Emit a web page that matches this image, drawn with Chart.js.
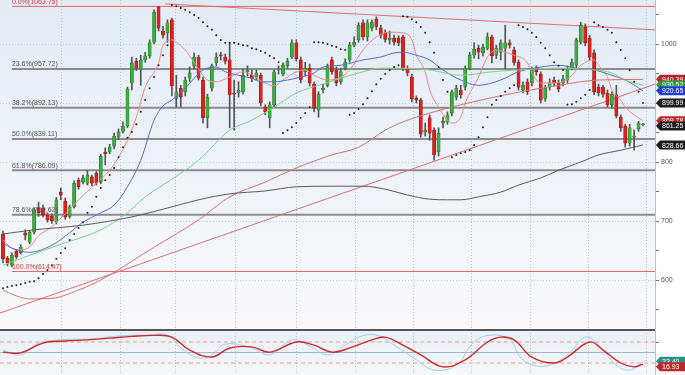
<!DOCTYPE html>
<html>
<head>
<meta charset="utf-8">
<script src="https://cdn.jsdelivr.net/npm/chart.js@4.4.0/dist/chart.umd.min.js"></script>
<style>
  html, body { margin: 0; padding: 0; background: #fff; }
</style>
</head>
<body>
<canvas id="chart" width="685" height="375"></canvas>
<script>
// candles, oldest first: [open, high, low, close]
const ohlc = [
  [678,683,629,636],[637,640,624,629],[625,646,622,642],[649,652,636,639],[646,660,644,656],
  [680,685,668,676],[664,683,661,681],[681,722,678,719],[722,732,708,714],[722,727,707,710],
  [710,714,698,702],[708,712,696,700],[698,740,695,736],[749,756,736,744],[734,739,703,707],
  [708,727,705,724],[724,768,722,764],[769,773,754,758],[766,778,763,773],[764,786,761,778],
  [775,778,760,764],[781,784,761,764],[766,813,763,810],[817,824,795,814],[817,830,814,825],
  [827,849,822,844],[842,856,838,851],[852,868,849,861],[861,927,858,924],[934,978,922,968],
  [971,976,955,959],[958,981,930,973],[973,986,969,980],[980,1007,976,1002],[1003,1058,1000,1054],
  [1063,1064,1022,1027],[1022,1030,1010,1015],[1019,1041,1003,1036],[1041,1044,912,929],[908,947,893,919],
  [925,930,893,910],[919,944,912,939],[942,961,936,951],[963,985,958,978],[978,981,939,942],
  [939,944,866,875],[875,915,858,910],[925,966,920,963],[968,985,963,978],[981,986,973,980],
  [978,983,966,971],[973,1002,858,914],[917,939,854,915],[917,936,910,922],[919,958,915,947],
  [953,963,946,956],[947,956,936,942],[944,956,939,951],[947,951,895,900],[893,897,880,885],
  [875,902,858,897],[897,956,893,953],[956,963,949,958],[949,968,946,964],[963,976,959,971],
  [978,1007,975,1002],[1002,1007,971,975],[973,978,934,939],[953,969,946,959],[959,966,929,934],
  [932,936,885,891],[888,919,876,915],[922,932,917,925],[930,966,927,961],[973,978,949,953],
  [956,961,929,934],[936,959,932,953],[959,975,956,969],[973,1003,969,998],[998,1012,995,1003],
  [1007,1036,1003,1032],[1036,1041,1007,1012],[1012,1041,1005,1036],[1027,1041,1022,1037],[1042,1046,1024,1030],
  [1027,1032,1010,1015],[1019,1024,1003,1008],[1007,1022,1000,1010],[1010,1015,998,1003],[1010,1014,997,1002],
  [1012,1015,955,959],[959,963,946,951],[944,949,902,907],[908,912,900,905],[905,908,842,847],
  [851,866,844,854],[875,880,837,849],[854,858,803,812],[817,858,810,849],[866,876,858,869],
  [868,885,864,880],[883,922,878,919],[910,930,905,925],[922,930,908,914],[927,963,922,959],
  [959,986,956,981],[981,1002,976,991],[993,998,975,986],[985,1000,980,995],[993,1019,990,1012],
  [1012,1015,968,980],[981,998,975,993],[986,1007,973,1002],[993,1032,958,1002],[1002,1007,993,998],
  [990,995,964,969],[969,973,922,927],[922,936,917,930],[936,941,914,919],[934,961,929,956],
  [959,963,947,953],[949,953,900,905],[908,930,903,925],[927,941,922,934],[939,944,929,934],
  [934,939,919,924],[934,947,929,941],[939,963,934,959],[959,975,956,969],[964,1010,959,1007],
  [1003,1037,1000,1032],[1029,1034,997,1002],[1010,1015,973,978],[985,990,914,919],[927,932,912,917],
  [927,930,910,915],[917,922,893,897],[897,919,891,915],[914,930,875,878],[876,880,852,858],
  [861,864,825,832],[832,864,827,858],[842,854,820,844],[856,869,852,866],[863,865,861,863]
];

// parabolic SAR, one dot per candle
const sar = [
  586,588,590,591,593,595,597,598,603,610,617,625,
  636,646,654,668,678,688,698,714,724,741,
  756,769,778,790,808,825,841,851,864,885,905,925,944,964,981,998,
  1066,1064,1061,1058,1054,1049,1044,1037,1030,1024,1015,1007,1002,1002,1002,1000,998,997,993,991,988,985,980,976,969,
  849,854,859,866,875,883,893,
  1003,1003,1002,1000,997,995,991,990,
  880,883,890,898,908,920,932,941,949,956,961,964,
  1047,1046,1042,1037,1029,1019,1003,985,961,939,919,
  808,812,815,817,820,829,842,859,876,897,905,912,919,925,930,
  1032,1029,1025,1019,1012,1002,993,981,969,963,956,
  897,898,902,908,914,922,
  1037,1032,1029,1024,1019,1003,990,976,956,936,919,900
];

// moving averages: [candle index, price]
const fastMa = [[0,668],[2,654],[4,651],[6,656],[8,675],[11,690],[13,705],[15,719],[17,736],[21,764],[24,786],[26,808],[28,837],[30,876],[32,927],[35,968],[36,998],[38,1007],[39,1003],[41,990],[43,969],[46,939],[48,936],[51,944],[54,953],[56,947],[59,934],[61,929],[63,939],[66,953],[68,956],[70,947],[73,939],[76,944],[78,956],[81,990],[84,1012],[87,1020],[90,1019],[92,1007],[93,981],[95,953],[96,922],[98,893],[100,871],[101,866],[103,876],[104,900],[107,944],[109,978],[111,990],[113,986],[115,981],[118,968],[119,951],[121,934],[124,934],[126,936],[128,947],[130,964],[133,973],[134,964],[136,944],[137,922],[139,905],[140,893],[142,880],[144,870]];
const blueMa = [[0,663],[2,654],[6,647],[11,659],[15,680],[18,698],[22,714],[25,727],[28,758],[31,803],[34,871],[36,895],[38,905],[41,925],[43,942],[45,956],[48,961],[50,953],[53,947],[56,942],[58,936],[61,936],[64,939],[67,944],[70,951],[72,961],[76,964],[81,973],[85,978],[88,985],[90,986],[93,981],[96,973],[99,956],[103,939],[107,930],[112,939],[116,953],[121,961],[125,964],[129,959],[133,956],[137,947],[140,939],[144,921]];
const greenMa = [[0,625],[6,642],[14,663],[22,685],[28,714],[32,741],[37,766],[44,803],[51,854],[56,871],[61,893],[66,917],[71,930],[76,942],[81,953],[85,959],[90,959],[96,956],[103,947],[110,953],[116,956],[125,959],[133,956],[137,951],[140,939],[144,930]];
const slowMa = [[0,583],[3,573],[6,568],[11,569],[17,583],[22,600],[33,651],[44,702],[51,741],[59,766],[66,790],[74,812],[80,825],[86,854],[90,868],[96,883],[103,897],[113,914],[125,930],[134,939],[144,940]];
const longMa = [[0,678],[7,685],[18,693],[29,707],[37,722],[44,736],[51,746],[59,751],[66,758],[74,759],[81,759],[86,754],[91,744],[96,737],[100,736],[103,736],[107,741],[112,749],[116,761],[121,773],[125,786],[130,800],[134,812],[139,820],[144,829]];

// fibonacci retracement
const fibNames = ['0.0%', '23.6%', '38.2%', '50.0%', '61.8%', '78.6%', '100.0%'];
const fibLevels = [1063.75, 957.72, 892.13, 839.11, 786.09, 710.62, 614.47];
const fibStart = 2;

// trend lines: [candle index, price]
const topTrend = [[36.5, 1068], [146.7, 1024]];
const riseTrend = [[-0.7, 544], [146.7, 932]];

// stochastic oscillator: [candle index, value]
const stochK = [[0,57],[4,43],[8,77],[13,86],[20,89],[26,97],[33,100],[37,100],[40,63],[44,34],[47,43],[50,74],[56,63],[60,43],[65,86],[69,69],[73,43],[77,71],[80,94],[84,100],[88,71],[93,29],[97,0],[102,14],[106,80],[110,100],[114,86],[117,29],[122,11],[127,43],[131,94],[134,71],[138,14],[141,0],[144,23]];
const stochD = [[0,51],[4,49],[9,77],[14,83],[19,86],[24,91],[29,96],[34,99],[38,94],[42,57],[47,37],[51,63],[56,66],[60,51],[66,80],[70,71],[74,51],[78,63],[83,86],[86,94],[90,71],[94,43],[99,9],[104,29],[109,80],[112,94],[115,86],[119,37],[124,20],[127,37],[132,80],[135,57],[139,20],[142,9],[144,17]];
const stochLevels = [80, 50, 20];

// last-value tags on the price axis
const tagText = ['940.39', '930.52', '920.65', '899.99', '869.78', '861.25', '828.66'];
const tagValue = [940.39, 930.52, 920.65, 899.99, 869.78, 861.25, 828.66];
const tagColor = ['#b8222a', '#2f9a3c', '#1d3fd0', '#1c1c1c', '#c0262c', '#1c1c1c', '#1c1c1c'];
const oscTagText = ['23.40', '16.93'];
const oscTagValue = [25, 9];
const oscTagColor = ['#2b8f86', '#c0262c'];

// month separators (candle index)
const gridDays = [5.9, 20.3, 32.4, 45.2, 59.4, 72.7, 85.8, 98.8, 112.1, 125.1, 138.2];

const X_MIN = -0.675, X_MAX = 146.7;

function pts(list) {
  return list.map(p => ({ x: p[0], y: p[1] }));
}

function maLine(list, color) {
  return {
    type: 'line',
    data: pts(list),
    borderColor: color,
    borderWidth: 1,
    pointRadius: 0,
    pointHoverRadius: 0,
    cubicInterpolationMode: 'monotone',
    yAxisID: 'y',
    order: 4
  };
}

function straight(list, color, width, order, axis) {
  return {
    type: 'line',
    data: pts(list),
    borderColor: color,
    borderWidth: width,
    pointRadius: 0,
    pointHoverRadius: 0,
    tension: 0,
    yAxisID: axis || 'y',
    order: order
  };
}

// axes must not reserve room for half labels at the ends
function noPad(width) {
  return s => {
    if (width !== undefined) s.width = width; else s.height = 0;
    s.paddingTop = 0; s.paddingBottom = 0; s.paddingLeft = 0; s.paddingRight = 0;
  };
}

const datasets = [];

fibLevels.forEach((lvl, k) => {
  const red = k === 0 || k === fibLevels.length - 1;
  datasets.push(straight([[fibStart, lvl], [X_MAX, lvl]], red ? '#e06a6a' : '#8c8c8c', red ? 1 : 2, 10));
});
datasets.push(straight(topTrend, '#e07070', 1, 9));
datasets.push(straight(riseTrend, '#e07070', 1, 9));

// wicks
datasets.push({
  type: 'bar',
  data: ohlc.map((c, i) => ({ x: i, y: [c[2], c[1]] })),
  backgroundColor: '#555',
  barThickness: 1,
  grouped: false,
  yAxisID: 'y',
  order: 8
});
// bodies
datasets.push({
  type: 'bar',
  data: ohlc.map((c, i) => ({ x: i, y: [c[0], c[3]] })),
  backgroundColor: ohlc.map(c => c[3] >= c[0] ? '#3fae3f' : '#e3201c'),
  borderColor: ohlc.map(c => c[3] >= c[0] ? '#24702a' : '#8e1410'),
  borderWidth: 0.6,
  borderSkipped: false,
  barThickness: 3.2,
  minBarLength: 1,
  grouped: false,
  yAxisID: 'y',
  order: 7
});

datasets.push(maLine(longMa, '#5a5a5a'));
datasets.push(maLine(slowMa, '#d8736f'));
datasets.push(maLine(greenMa, '#86d086'));
datasets.push(maLine(blueMa, '#5470d0'));
datasets.push(maLine(fastMa, '#f08a8a'));

// SAR dots
datasets.push({
  type: 'line',
  data: sar.map((v, i) => ({ x: i, y: v })),
  showLine: false,
  pointRadius: 1,
  pointHoverRadius: 1,
  pointBackgroundColor: '#222',
  pointBorderWidth: 0,
  yAxisID: 'y',
  order: 1
});

// oscillator
datasets.push(straight([[X_MIN, 80], [X_MAX, 80]], '#f2a08a', 1, 6, 'yOsc'));
datasets[datasets.length - 1].borderDash = [4, 3];
datasets.push(straight([[X_MIN, 20], [X_MAX, 20]], '#f2a08a', 1, 6, 'yOsc'));
datasets[datasets.length - 1].borderDash = [4, 3];
datasets.push(straight([[X_MIN, 50], [X_MAX, 50]], '#9fb6c8', 1, 6, 'yOsc'));
datasets.push({
  type: 'line', data: pts(stochK), borderColor: '#a9cde6', borderWidth: 1,
  pointRadius: 0, pointHoverRadius: 0, tension: 0.4, yAxisID: 'yOsc', order: 3
});
datasets.push({
  type: 'line', data: pts(stochD), borderColor: '#cf2a2a', borderWidth: 1.4,
  pointRadius: 0, pointHoverRadius: 0, tension: 0.4, yAxisID: 'yOsc', order: 2
});

function drawTag(ctx, x, y, text, color) {
  ctx.fillStyle = color;
  ctx.beginPath();
  ctx.moveTo(x, y);
  ctx.lineTo(x + 4, y - 4.5);
  ctx.lineTo(x + 29, y - 4.5);
  ctx.lineTo(x + 29, y + 4.5);
  ctx.lineTo(x + 4, y + 4.5);
  ctx.closePath();
  ctx.fill();
  ctx.fillStyle = '#fff';
  ctx.font = '7px "Liberation Sans", Arial, sans-serif';
  ctx.textAlign = 'left';
  ctx.textBaseline = 'middle';
  ctx.fillText(text, x + 6, y + 0.5);
}

const panelDecor = {
  id: 'panelDecor',
  beforeDraw(chart) {
    const { ctx, chartArea, scales } = chart;
    const m = scales.y, o = scales.yOsc;
    ctx.save();
    ctx.fillStyle = '#fff';
    ctx.fillRect(0, 0, chart.width, chart.height);
    let g = ctx.createLinearGradient(0, m.top, 0, m.bottom);
    g.addColorStop(0, '#e2ebf6');
    g.addColorStop(1, '#f8fafd');
    ctx.fillStyle = g;
    ctx.fillRect(chartArea.left, m.top, chartArea.right - chartArea.left, m.bottom - m.top);
    g = ctx.createLinearGradient(0, o.top, 0, o.bottom);
    g.addColorStop(0, '#e8eff7');
    g.addColorStop(1, '#f5f8fc');
    ctx.fillStyle = g;
    ctx.fillRect(chartArea.left, o.top, chartArea.right - chartArea.left, o.bottom - o.top);
    ctx.restore();
  },
  afterDatasetsDraw(chart) {
    const { ctx, chartArea, scales } = chart;
    const m = scales.y, x = scales.x;
    ctx.save();
    ctx.font = '7px "Liberation Sans", Arial, sans-serif';
    ctx.textAlign = 'left';
    ctx.textBaseline = 'bottom';
    fibLevels.forEach((lvl, k) => {
      const red = k === 0 || k === fibLevels.length - 1;
      ctx.fillStyle = red ? '#d23a3a' : '#555';
      ctx.fillText(fibNames[k] + '(' + lvl.toFixed(2) + ')', x.getPixelForValue(fibStart), m.getPixelForValue(lvl) - 1);
    });
    // panel separator
    ctx.strokeStyle = '#555';
    ctx.lineWidth = 2;
    ctx.beginPath();
    ctx.moveTo(chartArea.left, m.bottom);
    ctx.lineTo(chartArea.right, m.bottom);
    ctx.stroke();
    // right edge
    ctx.strokeStyle = '#b9c3cd';
    ctx.lineWidth = 1;
    ctx.beginPath();
    ctx.moveTo(chartArea.right + 0.5, chartArea.top);
    ctx.lineTo(chartArea.right + 0.5, chartArea.bottom);
    ctx.stroke();
    ctx.restore();
  },
  afterDraw(chart) {
    const { ctx, chartArea, scales } = chart;
    ctx.save();
    tagValue.forEach((v, k) => {
      drawTag(ctx, chartArea.right + 1, scales.y.getPixelForValue(v), tagText[k], tagColor[k]);
    });
    oscTagValue.forEach((v, k) => {
      drawTag(ctx, chartArea.right + 1, scales.yOsc.getPixelForValue(v), oscTagText[k], oscTagColor[k]);
    });
    ctx.restore();
  }
};

Chart.defaults.font.family = '"Liberation Sans", Arial, sans-serif';
Chart.defaults.font.size = 7;
Chart.defaults.color = '#555';

new Chart(document.getElementById('chart'), {
  type: 'bar',
  data: { datasets: datasets },
  plugins: [panelDecor],
  options: {
    responsive: false,
    devicePixelRatio: 1,
    animation: false,
    layout: { padding: 0, autoPadding: false },
    plugins: { legend: { display: false }, tooltip: { enabled: false } },
    scales: {
      x: {
        type: 'linear',
        min: X_MIN,
        max: X_MAX,
        offset: false,
        afterBuildTicks: s => { s.ticks = gridDays.map(v => ({ value: v })); },
        afterFit: noPad(),
        ticks: { display: false },
        grid: { color: '#b8c4d0', lineWidth: 1, drawTicks: false, borderDash: [1, 2] },
        border: { display: false, dash: [1, 2] }
      },
      y: {
        type: 'linear',
        position: 'right',
        stack: 'panels',
        stackWeight: 330,
        min: 515.3,
        max: 1074.6,
        afterBuildTicks: s => {
          const t = [];
          for (let v = 550; v <= 1050; v += 50) t.push({ value: v });
          s.ticks = t;
        },
        afterFit: noPad(30),
        ticks: {
          padding: 2,
          callback: v => (v % 100 === 0 ? String(v) : '')
        },
        grid: {
          color: c => (c.tick && c.tick.value % 100 === 0 ? '#c3ccd6' : 'transparent'),
          tickColor: '#777',
          tickLength: 4,
          borderDash: [1, 2]
        },
        border: { display: false, dash: [1, 2] }
      },
      yOsc: {
        type: 'linear',
        position: 'right',
        stack: 'panels',
        stackWeight: 45,
        min: -14.3,
        max: 114.3,
        afterBuildTicks: s => { s.ticks = stochLevels.map(v => ({ value: v })); },
        afterFit: noPad(30),
        ticks: { padding: 2, callback: v => (v === 50 ? '50' : '') },
        grid: { drawOnChartArea: false, tickColor: '#777', tickLength: 4 },
        border: { display: false }
      }
    }
  }
});
</script>
</body>
</html>
